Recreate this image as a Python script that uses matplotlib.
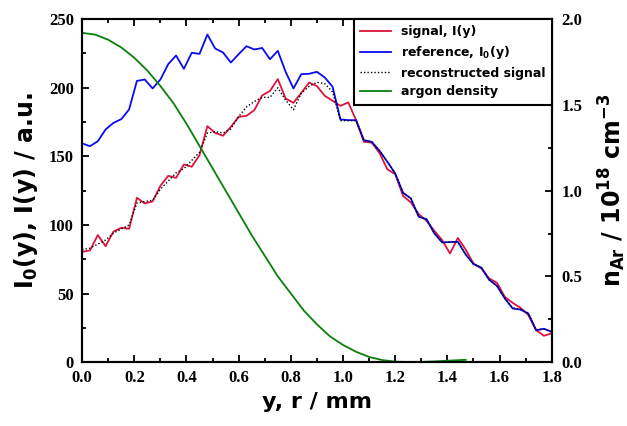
import matplotlib
matplotlib.use("Agg")
import matplotlib.pyplot as plt
from matplotlib.ticker import MultipleLocator

plt.rcParams['mathtext.fontset'] = 'custom'
plt.rcParams['mathtext.rm'] = 'DejaVu Sans:bold'
plt.rcParams['mathtext.bf'] = 'DejaVu Sans:bold'
plt.rcParams['mathtext.default'] = 'bf'

# positions y (mm)
pos = [0.00, 0.03, 0.06, 0.09, 0.12, 0.15, 0.18, 0.21, 0.24, 0.27,
       0.30, 0.33, 0.36, 0.39, 0.42, 0.45, 0.48, 0.51, 0.54, 0.57,
       0.60, 0.63, 0.66, 0.69, 0.72, 0.75, 0.78, 0.81, 0.84, 0.87,
       0.90, 0.93, 0.96, 0.99, 1.02, 1.05, 1.08, 1.11, 1.14, 1.17,
       1.20, 1.23, 1.26, 1.29, 1.32, 1.35, 1.38, 1.41, 1.44, 1.47,
       1.50, 1.53, 1.56, 1.59, 1.62, 1.65, 1.68, 1.71, 1.74, 1.77, 1.80]

signal = [80.4, 81.4, 92.6, 84.5, 95.2, 97.9, 97.2, 119.8, 115.7, 117.1,
          128.5, 135.8, 134.3, 144.1, 142.4, 150.9, 172.0, 167.1, 165.0, 171.5,
          178.8, 179.5, 183.7, 194.4, 197.7, 206.3, 192.2, 189.0, 196.3, 203.8,
          201.2, 194.1, 190.5, 186.8, 189.3, 176.4, 160.6, 160.0, 152.4, 140.5,
          137.0, 121.2, 116.4, 107.9, 103.0, 95.7, 88.9, 79.2, 90.5, 82.1,
          71.9, 68.3, 61.0, 57.8, 47.6, 43.2, 39.6, 34.3, 23.3, 19.2, 20.9]

reference = [159.4, 157.4, 161.0, 169.6, 174.4, 177.1, 184.2, 205.0, 206.0, 199.5,
             206.0, 217.2, 223.5, 213.8, 225.5, 224.7, 238.8, 228.6, 225.7, 218.4,
             224.5, 230.3, 227.9, 229.0, 220.8, 226.9, 211.6, 199.5, 209.9, 210.2,
             211.6, 207.5, 200.7, 176.9, 176.4, 176.4, 161.8, 160.6, 154.0, 146.0,
             137.5, 123.4, 119.3, 105.9, 104.2, 93.8, 87.2, 87.5, 87.7, 78.5,
             71.4, 68.9, 60.0, 55.6, 46.4, 39.1, 38.3, 35.5, 23.3, 24.3, 22.1]

recon = [82, 83, 86, 89, 94, 97, 100, 116, 117, 118,
         126, 132, 138, 141, 147, 153, 167, 168, 167, 170,
         179, 186, 190, 193, 193, 200, 191, 184, 196, 201,
         204, 203, 197, 176, 176, 176, 161.5, 160.5, 154, 146,
         137.5, 123.5, 119.5, 106, 104, 94, 87.5, 87.5, 87.5, 78.5,
         71.5, 69, 60, 55.5, 46.5, 39.5, 38.5, 35.5, 23.5, 24, 22]

# argon density, r (mm) and n_Ar (1e18 cm^-3)
r_ar = [0.00, 0.05, 0.10, 0.15, 0.20, 0.25, 0.30, 0.35, 0.40, 0.45,
        0.50, 0.55, 0.60, 0.65, 0.70, 0.75, 0.80, 0.85, 0.90, 0.95,
        1.00, 1.05, 1.10, 1.15, 1.20, 1.25, 1.30, 1.35, 1.40, 1.45, 1.47]
n_ar = [1.92, 1.91, 1.88, 1.835, 1.775, 1.70, 1.61, 1.51, 1.39, 1.26,
        1.13, 1.00, 0.87, 0.74, 0.62, 0.50, 0.40, 0.30, 0.22, 0.15,
        0.10, 0.06, 0.03, 0.012, 0.003, 0.0, 0.001, 0.004, 0.008, 0.012, 0.013]

fig = plt.figure(figsize=(6.27, 4.26), dpi=100)
ax = fig.add_subplot(111)
fig.subplots_adjust(left=0.131, right=0.880, top=0.955, bottom=0.150)
ax2 = ax.twinx()

l1, = ax.plot(pos, signal, color='#dc143c', lw=1.3, label='signal, I(y)')
l2, = ax.plot(pos, reference, color='#0a0af0', lw=1.3, label='reference, I$_0$(y)')
l3, = ax.plot(pos, recon, color='black', lw=1.0, ls=(0, (1, 1.5)), label='reconstructed signal')
l4, = ax2.plot(r_ar, n_ar, color='#0a800a', lw=1.3, label='argon density')

ax.set_xlim(0, 1.8)
ax.set_ylim(0, 250)
ax2.set_ylim(0, 2.0)

tickfont = {'family': 'Liberation Serif', 'weight': 'bold', 'size': 12}
labfont = {'family': 'DejaVu Sans', 'weight': 'bold', 'size': 16}

ax.xaxis.set_major_locator(MultipleLocator(0.2))
ax.xaxis.set_minor_locator(MultipleLocator(0.1))
ax.yaxis.set_major_locator(MultipleLocator(50))
ax.yaxis.set_minor_locator(MultipleLocator(25))
ax2.yaxis.set_major_locator(MultipleLocator(0.5))
ax2.yaxis.set_minor_locator(MultipleLocator(0.25))

ax.tick_params(axis='x', which='both', direction='in', top=True, width=1.3)
ax.tick_params(axis='y', which='both', direction='in', right=False, width=1.3)
ax.tick_params(which='major', length=5, pad=6)
ax.tick_params(which='minor', length=3)
ax2.tick_params(axis='y', which='both', direction='in', width=1.3)
ax2.tick_params(which='major', length=5, pad=7)
ax2.tick_params(which='minor', length=3)

ax.set_xticklabels([f'{v:.1f}' for v in ax.get_xticks()], fontdict=tickfont)
ax.set_yticklabels([f'{int(v)}' for v in ax.get_yticks()], fontdict=tickfont)
ax2.set_yticklabels([f'{v:.1f}' for v in ax2.get_yticks()], fontdict=tickfont)

for a in (ax, ax2):
    for s in a.spines.values():
        s.set_linewidth(1.5)

ax.set_xlabel('y, r / mm', fontdict=labfont, labelpad=4)
ax.set_ylabel('I$_0$(y), I(y) / a.u.', fontdict={'family': 'DejaVu Sans', 'weight': 'bold', 'size': 17}, labelpad=6)
ax2.set_ylabel('n$_{Ar}$ / 10$^{18}$ cm$^{-3}$', fontdict={'family': 'DejaVu Sans', 'weight': 'bold', 'size': 17}, labelpad=10)

leg = ax2.legend(handles=[l1, l2, l3, l4], loc='upper right', borderaxespad=0,
                 prop={'family': 'DejaVu Sans', 'weight': 'bold', 'size': 9},
                 fancybox=False, framealpha=1, edgecolor='black',
                 handlelength=2.5, labelspacing=0.45, borderpad=0.5)
leg.get_frame().set_linewidth(1.5)

fig.savefig('out.png', dpi=100)
